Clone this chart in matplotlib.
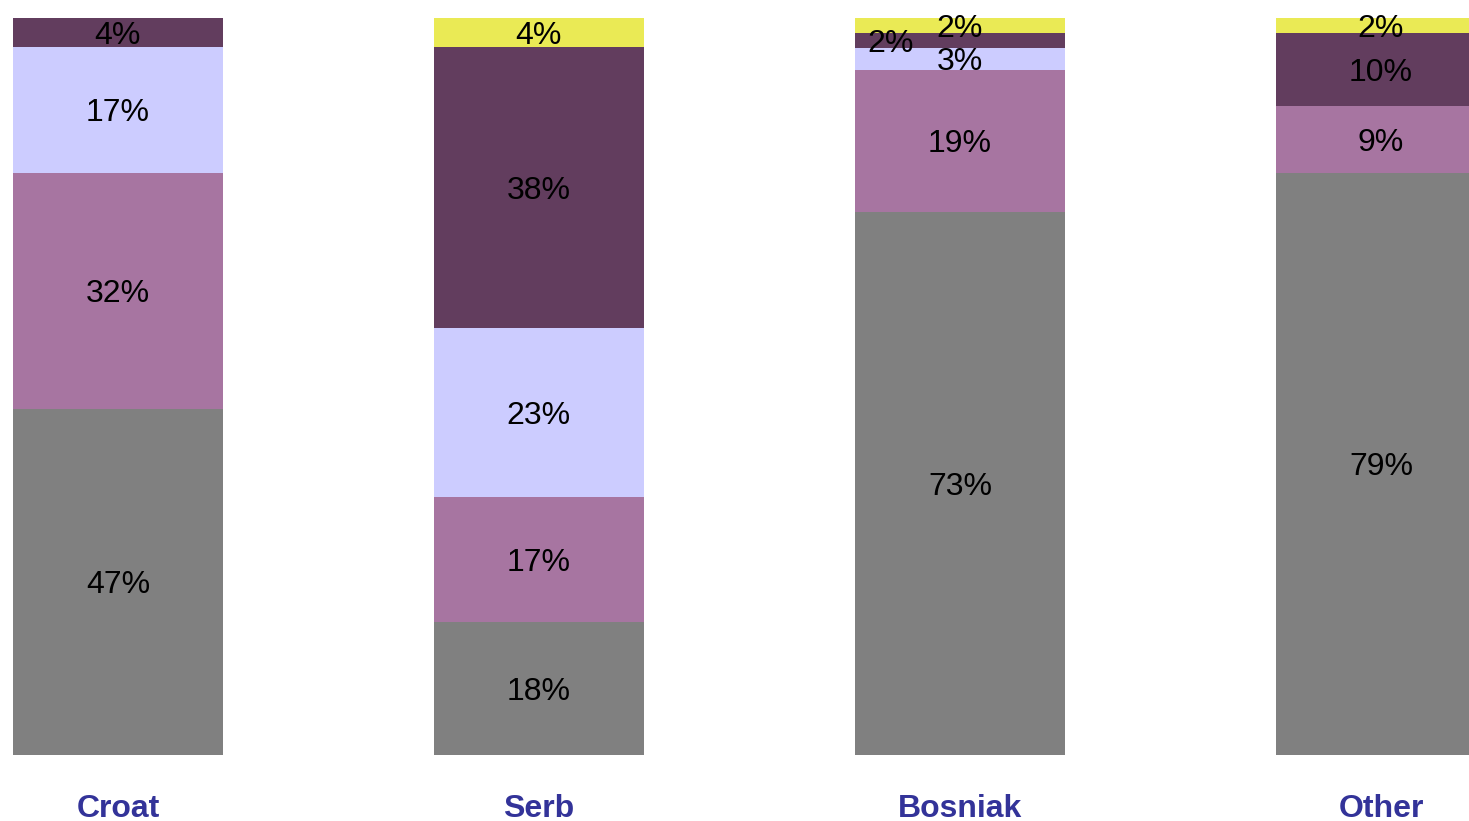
import matplotlib.pyplot as plt
import numpy as np

plt.rcParams['font.family'] = ['Liberation Sans', 'DejaVu Sans']

groups = ['Croat', 'Serb', 'Bosniak', 'Other']
# stacked from bottom to top
gray_vals = [47, 18, 73, 79]
mauve_vals = [32, 17, 19, 9]
lav_vals = [17, 23, 3, 0]
dark_vals = [4, 38, 2, 10]
yellow_vals = [0, 4, 2, 2]

series = [gray_vals, mauve_vals, lav_vals, dark_vals, yellow_vals]
colors = ['#808080', '#A775A1', '#CCCCFF', '#623D5E', '#EAEA55']

# each column is drawn as a 100% stack
totals = np.sum(np.array(series, dtype=float), axis=0)

fig = plt.figure(figsize=(14.69, 8.21), dpi=100)
ax = fig.add_axes([0, 66 / 821, 1, 737 / 821])

x = np.arange(len(groups))
bottom = np.zeros(len(groups))
for vals, c in zip(series, colors):
    vals = np.array(vals, dtype=float)
    h = vals / totals * 100
    ax.bar(x, h, width=0.5, bottom=bottom, color=c, linewidth=0)
    for i, v in enumerate(vals):
        if v <= 0:
            continue
        xi = x[i]
        # the small dark slice in Bosniak has its label pushed left
        if groups[i] == 'Bosniak' and c == '#623D5E':
            xi -= 0.165
        ax.text(xi, bottom[i] + h[i] / 2 - 0.45, f'{int(v)}%', ha='center',
                va='center', fontsize=23, color='black')
    bottom += h

ax.set_xlim(-0.280, 3.209)
ax.set_ylim(0, 100)
ax.axis('off')

for i, g in enumerate(groups):
    ax.text(x[i], -7.3, g, ha='center', va='center',
            fontsize=23, fontweight='bold', color='#333399')

fig.savefig('out.png', dpi=100)
